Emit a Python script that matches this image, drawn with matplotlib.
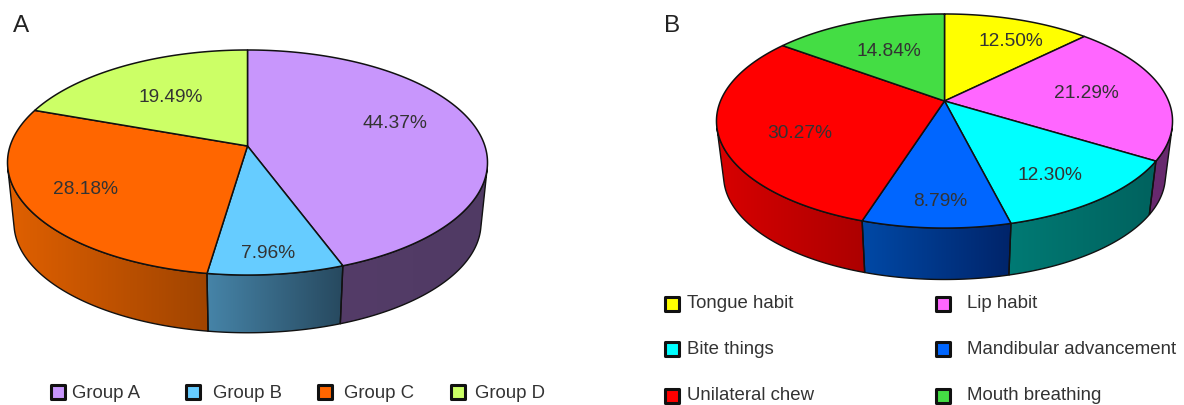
import numpy as np
import matplotlib
matplotlib.use('Agg')
import matplotlib.pyplot as plt
from matplotlib.patches import Polygon
from matplotlib.colors import to_rgb

plt.rcParams['font.family'] = ['Liberation Sans', 'DejaVu Sans']

# panel A
groups_a = ['Group A', 'Group B', 'Group C', 'Group D']
values_a = [44.37, 7.96, 28.18, 19.49]
# panel B
groups_b = ['Tongue habit', 'Lip habit', 'Bite things', 'Mandibular advancement',
            'Unilateral chew', 'Mouth breathing']
values_b = [12.50, 21.29, 12.30, 8.79, 30.27, 14.84]

colors_a = ['#C896FC', '#66CCFF', '#FF6600', '#CCFF66']
wall_a = [('#543C68', '#503A64'), ('#4684A8', '#27495F'), ('#E06000', '#A04400'), ('#A0C850', '#A0C850')]
colors_b = ['#FFFF00', '#FF66FF', '#00FFFF', '#0066FF', '#FF0000', '#44DD44']
wall_b = [('#B0B000', '#B0B000'), ('#68296E', '#68296E'), ('#007A74', '#00625E'),
          ('#0049A6', '#00246A'), ('#D80000', '#AC0000'), ('#209020', '#209020')]

label_pos_a = [(395, 124), (268, 253), (85, 190), (171, 98)]
label_pos_b = [(1011, 41), (1086, 94), (1050, 176), (940, 201), (800, 134), (889, 52)]


def rim(angles, cx, cy, a, b, k):
    # circle seen in perspective, far side (top) squeezed
    x, y = np.sin(angles), np.cos(angles)
    w = 1 + k * y
    return cx + b * x / w, cy - a * y / w


def tangent(top, bottom, phis):
    # angles on the two rims where the outer silhouette line touches them
    th = np.linspace(0, 2 * np.pi, 1441)
    xt, yt = rim(th, *top)
    xb, yb = rim(th, *bottom)
    best = None
    for phi in phis:
        dx, dy = np.cos(phi), np.sin(phi)
        pt, pb = xt * dx + yt * dy, xb * dx + yb * dy
        gap = abs(pt.max() - pb.max())
        if best is None or gap < best[0]:
            best = (gap, th[pt.argmax()], th[pb.argmax()])
    return best[1], best[2]


def draw_pie(ax, values, colors, walls, labels, top, bottom):
    edges = np.concatenate([[0], np.cumsum(values)]) / np.sum(values) * 2 * np.pi
    r_top, r_low = tangent(top, bottom, np.radians(np.linspace(-20, 60, 801)))
    l_top, l_low = tangent(top, bottom, np.radians(np.linspace(120, 200, 801)))
    # side wall first, the top surface covers the back of it
    for i in range(len(values)):
        a, b = max(edges[i], r_top), min(edges[i + 1], l_top)
        if a >= b:
            continue
        a2 = r_low if a == r_top else a
        b2 = l_low if b == l_top else b
        xt, yt = rim(np.linspace(a, b, 200), *top)
        xb, yb = rim(np.linspace(a2, b2, 200), *bottom)
        pts = np.c_[np.r_[xt, xb[::-1]], np.r_[yt, yb[::-1]]]
        c0, c1 = np.array(to_rgb(walls[i][0])), np.array(to_rgb(walls[i][1]))
        grad = np.linspace(c0, c1, 256)[np.newaxis, :, :]
        im = ax.imshow(grad, extent=(pts[:, 0].min(), pts[:, 0].max(), pts[:, 1].max(), pts[:, 1].min()),
                       aspect='auto', interpolation='bilinear', zorder=2)
        im.set_clip_path(Polygon(pts, closed=True, transform=ax.transData))
        ax.add_patch(Polygon(pts, closed=True, fill=False, edgecolor='#111111', lw=1.0, zorder=3))
    # top surface
    for i in range(len(values)):
        th = np.linspace(edges[i], edges[i + 1], 200)
        xt, yt = rim(th, *top)
        ax.fill(np.r_[top[0], xt], np.r_[top[1], yt], facecolor=colors[i], edgecolor='#111111',
                lw=1.1, joinstyle='round', zorder=4)
    for v, (lx, ly) in zip(values, labels):
        ax.text(lx, ly, '%.2f%%' % v, ha='center', va='center', fontsize=13.8, color='#333333', zorder=5)


fig = plt.figure(figsize=(11.84, 4.05), dpi=100)
ax = fig.add_axes([0, 0, 1, 1])
ax.axis('off')

# cx, cy, a, b, k
draw_pie(ax, values_a, colors_a, wall_a, label_pos_a,
         (247.5, 146, 110.1, 237.4, 0.1467), (247.5, 207, 107.3, 231, 0.1467))
draw_pie(ax, values_b, colors_b, wall_b, label_pos_b,
         (944.5, 101, 103.3, 224, 0.187), (944.5, 156.5, 100, 217, 0.187))
ax.set_xlim(0, 1184)
ax.set_ylim(405, 0)

ax.text(21, 26, 'A', fontsize=17.5, color='#222222', ha='center', va='center')
ax.text(672, 26, 'B', fontsize=17.5, color='#222222', ha='center', va='center')

# legends
legend_a_marker_x = [58, 193, 325, 458]
legend_a_text_x = [72, 213, 344, 475]
for name, c, mx, tx in zip(groups_a, colors_a, legend_a_marker_x, legend_a_text_x):
    ax.scatter([mx], [392], marker='s', s=108, facecolor=c, edgecolor='#111111', linewidth=2.2, zorder=5)
    ax.text(tx, 394, name, fontsize=13.4, color='#333333', va='center', ha='left')

legend_b_marker = [(672, 304), (943, 304), (672, 349), (943, 349), (672, 396), (943, 396)]
legend_b_text = [(687, 304), (967, 304), (687, 349), (967, 349), (687, 395), (967, 395)]
for name, c, m, t in zip(groups_b, colors_b, legend_b_marker, legend_b_text):
    ax.scatter([m[0]], [m[1]], marker='s', s=108, facecolor=c, edgecolor='#111111', linewidth=2.2, zorder=5)
    ax.text(t[0], t[1], name, fontsize=13.4, color='#333333', va='center', ha='left')

plt.savefig('out.png', dpi=100)
